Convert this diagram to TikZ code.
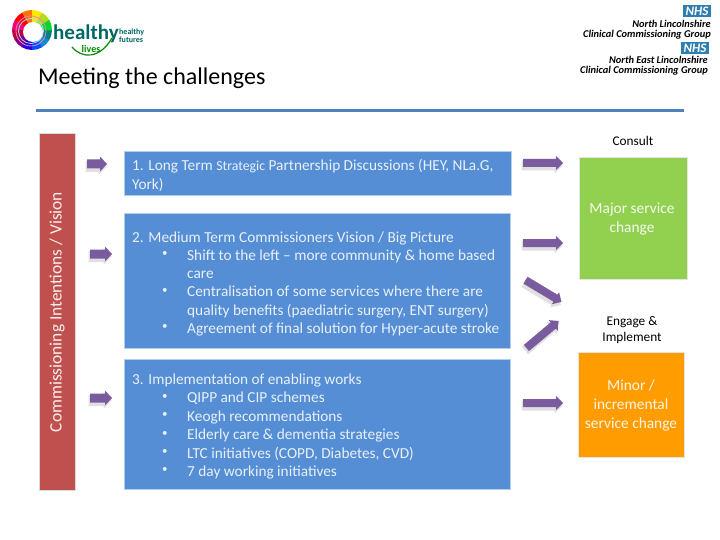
\documentclass[tikz,border=0pt]{standalone}
\usepackage{fontspec}
\setmainfont{Carlito}
\definecolor{boxblue}{HTML}{558ED5}
\definecolor{boxedge}{HTML}{B4CDEB}
\definecolor{redbar}{HTML}{C0504D}
\definecolor{greenbox}{HTML}{92D050}
\definecolor{orangebox}{HTML}{FF9C00}
\definecolor{arrowp}{HTML}{7A5C9E}
\definecolor{rulecol}{HTML}{4F81BD}
\definecolor{nhsblue}{HTML}{2E7FB0}
\definecolor{bodytext}{HTML}{E9F0F9}
\tikzset{
 x=1pt,y=-1pt,
 panel/.style={fill=boxblue,draw=boxedge,line width=1pt,inner sep=0pt},
 bodyt/.style={text=bodytext,font=\fontsize{15.3}{18.4}\selectfont,align=flush left,anchor=north west,inner sep=0pt},
 boxlab/.style={text=white,font=\fontsize{15.4}{18.8}\selectfont,align=center,text opacity=.9},
 caption/.style={text=black,font=\fontsize{13.3}{16}\selectfont,align=center},
 nhstag/.style={fill=nhsblue,text=white,font=\bfseries\itshape\fontsize{13}{13}\selectfont,inner sep=0pt,minimum width=28pt,minimum height=12pt},
 nhsline/.style={text=black,font=\bfseries\itshape\fontsize{10.4}{11}\selectfont,anchor=east,inner sep=0pt},
}
\newcommand{\bul}[3]{%
 \node[bodyt,font=\fontsize{11}{18.4}\selectfont] at (162,#1+2) {•};
 \node[bodyt,text width=320pt] (#2) at (187,#1) {#3};}
% block arrow: centre x, centre y, half length, angle, half shaft, half head, head length
\newcommand{\blockarr}[7]{%
 \begin{scope}[shift={(#1-1.5,#2+2.5)},rotate=#4]
  \fill[black!12] (-#3,-#5-1) -- (#3-#7,-#5-1) -- (#3-#7,-#6-1) -- (#3+1,0) -- (#3-#7,#6+1) -- (#3-#7,#5+1) -- (-#3,#5+1) -- cycle;
 \end{scope}
 \begin{scope}[shift={(#1,#2)},rotate=#4]
  \fill[arrowp] (-#3,-#5) -- (#3-#7,-#5) -- (#3-#7,-#6) -- (#3,0) -- (#3-#7,#6) -- (#3-#7,#5) -- (-#3,#5) -- cycle;
 \end{scope}}
\begin{document}
\begin{tikzpicture}
\useasboundingbox (0,0) rectangle (720,540);
\fill[white] (0,0) rectangle (720,540);

% logo swirl
\foreach \a/\c in {0/teal,30/cyan!70!blue,60/blue!70!cyan,90/blue!70!violet,120/violet,150/purple,180/magenta!80!red,210/red,240/orange!90!red,270/yellow!90!orange,300/yellow!70!green,330/green!70!teal}{
  \fill[\c] (32,30) -- ++(\a:20) arc[start angle=\a,end angle=\a+31,radius=20] -- cycle;
}
\draw[white!50!magenta,line width=.8pt] (31,31) circle[radius=15];
\draw[white!60!cyan,line width=.8pt] (31,31) circle[radius=12.5];
\fill[white] (33,32) circle[radius=10];
\node[text=teal!80!black,font=\bfseries\fontsize{21}{21}\selectfont,inner sep=0pt,anchor=west] (hl) at (53,34) {healthy};
\node[text=green!55!black,font=\bfseries\fontsize{10}{10}\selectfont,inner sep=0pt] (ll) at (91,49) {lives};
\node[text=teal!80!black,font=\bfseries\fontsize{8}{6}\selectfont,align=left,inner sep=0pt,anchor=west] (hf) at (119,35.5) {healthy\\futures};
\draw[green!55!black,line width=1.2pt] (72,47) .. controls (82,59) and (100,59) .. (112,38);

% NHS block
\node[nhstag] (nhsa) at (697,11.5) {NHS};
\node[nhsline] (na1) at (711,23.5) {North Lincolnshire};
\node[nhsline] (na2) at (711,35) {Clinical Commissioning Group};
\node[nhstag] (nhsb) at (695,48) {NHS};
\node[nhsline] (nb1) at (708,59.5) {North East Lincolnshire};
\node[nhsline] (nb2) at (708,71) {Clinical Commissioning Group};

% title and rule
\node[anchor=west,inner sep=0pt,font=\fontsize{24}{26}\selectfont] (title) at (38,78) {Meeting the challenges};
\draw[rulecol,line width=3pt] (36,110.5) -- (684,110.5);

% red bar
\path[fill=redbar,draw=black!15,line width=.7pt] (39,133) rectangle (75,490);
\node[rotate=90,text=white,text opacity=.9,font=\fontsize{17.4}{18}\selectfont,inner sep=0pt] (vision) at (57,312) {Commissioning Intentions / Vision};

% panels
\draw[panel] (124,152) rectangle (511,196);
\draw[panel] (124,214) rectangle (510,348);
\draw[panel] (124,359) rectangle (510,489);
\node[bodyt,text width=370pt] (p1) at (132,159.5) {1. Long Term {\fontsize{13.8}{18}\selectfont Strategic} Partnership Discussions (HEY, NLa.G, York)};

\node[bodyt] (p2) at (132,231.5) {2. Medium Term Commissioners Vision / Big Picture};
\bul{249.5}{p2a}{Shift to the left – more community \& home based care}
\bul{286}{p2b}{Centralisation of some services where there are quality benefits (paediatric surgery, ENT surgery)}
\bul{322.5}{p2c}{Agreement of final solution for Hyper-acute stroke}

\node[bodyt] (p3) at (132,373.5) {3. Implementation of enabling works};
\bul{392}{p3a}{QIPP and CIP schemes}
\bul{410.5}{p3b}{Keogh recommendations}
\bul{429}{p3c}{Elderly care \& dementia strategies}
\bul{447}{p3d}{LTC initiatives (COPD, Diabetes, CVD)}
\bul{465.5}{p3e}{7 day working initiatives}

% right boxes
\path[fill=greenbox,draw=black!10,line width=.6pt] (579,157) rectangle (687,279);
\path[fill=orangebox,draw=black!10,line width=.6pt] (578,352) rectangle (684,457);
\node[boxlab] (major) at (632,219) {Major service\\change};
\node[boxlab] (minor) at (631,405.5) {Minor /\\incremental\\service change};
\node[caption] (consult) at (633,141) {Consult};
\node[caption] (engage) at (632,330) {Engage \&\\Implement};

% block arrows
\blockarr{97}{164}{10}{0}{4.5}{7.5}{7}
\blockarr{101}{254}{11}{0}{4.5}{7.5}{7}
\blockarr{101}{398}{11}{0}{4.5}{7.5}{7}
\blockarr{543}{163}{20}{0}{4}{7}{7}
\blockarr{543}{243}{20}{0}{4}{7}{7}
\blockarr{543}{403}{20}{0}{4}{7}{7}
\blockarr{543.5}{291}{21}{-31}{4}{7}{7}
\blockarr{542.5}{334.5}{21}{40}{4}{7}{7}
\end{tikzpicture}
\end{document}
